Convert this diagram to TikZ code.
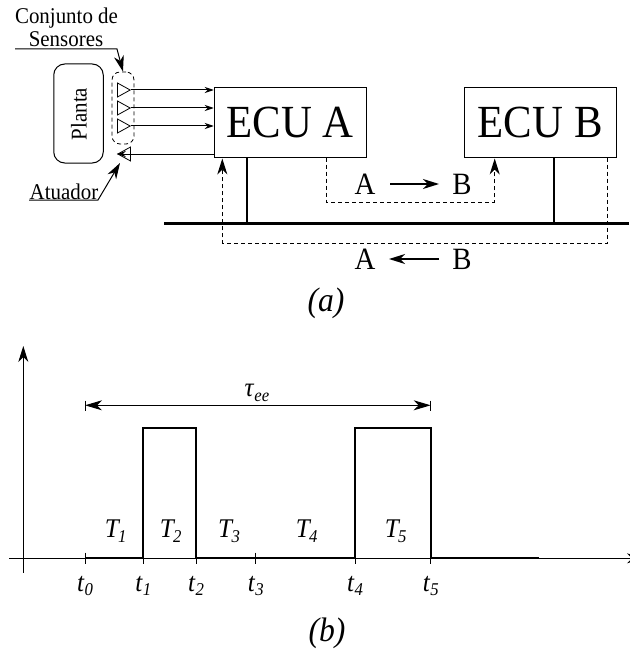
\documentclass[tikz,border=0pt]{standalone}
\usepackage{fontspec}
\setmainfont[FakeStretch=0.93]{Liberation Serif}
\usetikzlibrary{arrows.meta}
\usetikzlibrary{shapes.geometric}
\newcommand{\itlab}[3][0pt]{\textit{#2}\kern#1\raisebox{-4.5pt}{\fontsize{18}{18}\selectfont\textit{#3}}}
\tikzset{
    ecu/.style={draw,line width=1.1pt,minimum width=152pt,minimum height=70.5pt,inner sep=0pt,font=\fontsize{46}{46}\selectfont},
    word/.style={inner sep=0pt,font=\fontsize{22.5}{22.5}\selectfont},
    letter/.style={inner sep=0pt,font=\fontsize{31}{31}\selectfont},
    caption/.style={inner sep=0pt,font=\fontsize{34}{34}\selectfont\itshape},
    timelab/.style={inner sep=0pt,font=\fontsize{27}{27}\selectfont},
    sensor/.style={draw,isosceles triangle,isosceles triangle stretches,minimum width=14pt,minimum height=12.7pt,inner sep=0pt,line width=0.8pt},
    edge/.style={line width=1pt},
    dedge/.style={-{Stealth[length=9pt,width=6pt,inset=3pt]},line width=1pt},
    bigedge/.style={-{Stealth[length=16pt,width=10pt,inset=5pt]},line width=1pt},
    dashedge/.style={-{Stealth[length=16pt,width=10pt,inset=5pt]},line width=1pt,dash pattern=on 4pt off 3pt},
    signal/.style={line width=2pt}
}

\begin{document}
\begin{tikzpicture}[x=1pt,y=-1pt]
\useasboundingbox (0,0) rectangle (629,650);
% (a)
\node[draw,line width=1pt,rounded corners=11pt,minimum width=49.5pt,minimum height=99pt] (planta) at (78.5,113.5) {};
\node[word,rotate=90] (plantatxt) at (79,114) {Planta};
\node[draw,line width=0.8pt,dash pattern=on 4pt off 3pt,rounded corners=8pt,minimum width=22pt,minimum height=72pt] (group) at (123,108) {};
\node[sensor] (s1) at (121.6,90) {};
\node[sensor] (s2) at (121.6,108) {};
\node[sensor] (s3) at (121.6,126) {};
\node[sensor,rotate=180] (act) at (126.4,154) {};

\node[ecu] (ecua) at (290.3,122.5) {ECU A};
\node[ecu] (ecub) at (540.2,122.5) {ECU B};

\draw[dedge] (s1.apex) -- (ecua.west|-s1);
\draw[dedge] (s2.apex) -- (ecua.west|-s2);
\draw[dedge] (s3.apex) -- (ecua.west|-s3);
\draw[dedge] (ecua.west|-act) -- (act.east);

\node[word] (conj) at (66.5,18) {Conjunto de};
\node[word] (sens) at (66,39) {Sensores};
\node[word] (atua) at (64,192) {Atuador};
\coordinate (c1) at (15,49);
\coordinate (c2) at (117,49);
\coordinate (c3) at (29,200);
\coordinate (c4) at (98,200);
\coordinate (c5) at (120,163);
\draw[bigedge] (c1) -- (c2) -- (group.north);
\draw[bigedge] (c3) -- (c4) -- (c5);

% bus
\coordinate (b1) at (164,223.3);
\coordinate (b2) at (629,223.3);
\draw[line width=3pt] (b1) -- (b2);
\draw[line width=1.7pt] (ecua.south-|246.7,0) -- (246.7,223.3);
\draw[line width=1.7pt] (ecub.south-|553.7,0) -- (553.7,223.3);

\coordinate (d1) at (326.7,157.7);
\coordinate (d2) at (494.7,158.5);
\coordinate (d3) at (607.3,157.7);
\coordinate (d4) at (222.3,158.5);
\draw[dashedge] (d1) -- (326.7,202) -- (494.7,202) -- (d2);
\draw[dashedge] (d3) -- (607.3,243) -- (222.3,243) -- (d4);

\node[letter] (a1) at (365,184) {A};
\node[letter] (b1l) at (462,184) {B};
\node[letter] (a2) at (365,259) {A};
\node[letter] (b2l) at (462,259) {B};
\coordinate (f1) at (390,184);
\coordinate (f2) at (439,184);
\coordinate (g1) at (439,259);
\coordinate (g2) at (389,259);
\draw[bigedge,line width=1.4pt] (f1) -- (f2);
\draw[bigedge,line width=1.4pt] (g1) -- (g2);
\node[caption] (capa) at (326,303) {(a)};

% (b)
\coordinate (o1) at (23.3,572.7);
\coordinate (o2) at (23.3,346);
\coordinate (x1) at (9,558.3);
\coordinate (x2) at (643,558.3);
\draw[bigedge] (o1) -- (o2);
\draw[bigedge] (x1) -- (x2);

\foreach \x/\n in {85/0,143.3/1,196/2,255.7/3,355/4,430.7/5}{
\draw[edge] (\x,552.7) -- (\x,564.3);
\node[timelab] (t\n) at (\x,586) {\itlab{t}{\n}};
}
\draw[signal] (85,558.3) -- (143.3,558.3) -- (143.3,427.7) -- (196,427.7) -- (196,558.3) -- (355,558.3) -- (355,427.7) -- (430.7,427.7) -- (430.7,558.3) -- (539,558.3);

\coordinate (e1) at (85,405.3);
\coordinate (e2) at (430.7,405.3);
\draw[edge] (85,400.7) -- (85,410.7);
\draw[edge] (430.7,400.7) -- (430.7,410.7);
\draw[{Stealth[length=17pt,width=10pt,inset=5pt]}-{Stealth[length=17pt,width=10pt,inset=5pt]},line width=1pt] (e1) -- (e2);
\node[timelab] (tau) at (257,393) {\itlab{τ}{ee}};

\foreach \x/\n in {115.7/1,170.7/2,229/3,306.7/4,395.7/5}{
\node[timelab] (T\n) at (\x,531) {\itlab[-2pt]{T}{\n}};
}
\node[caption] (capb) at (327,633) {(b)};
\end{tikzpicture}
\end{document}
